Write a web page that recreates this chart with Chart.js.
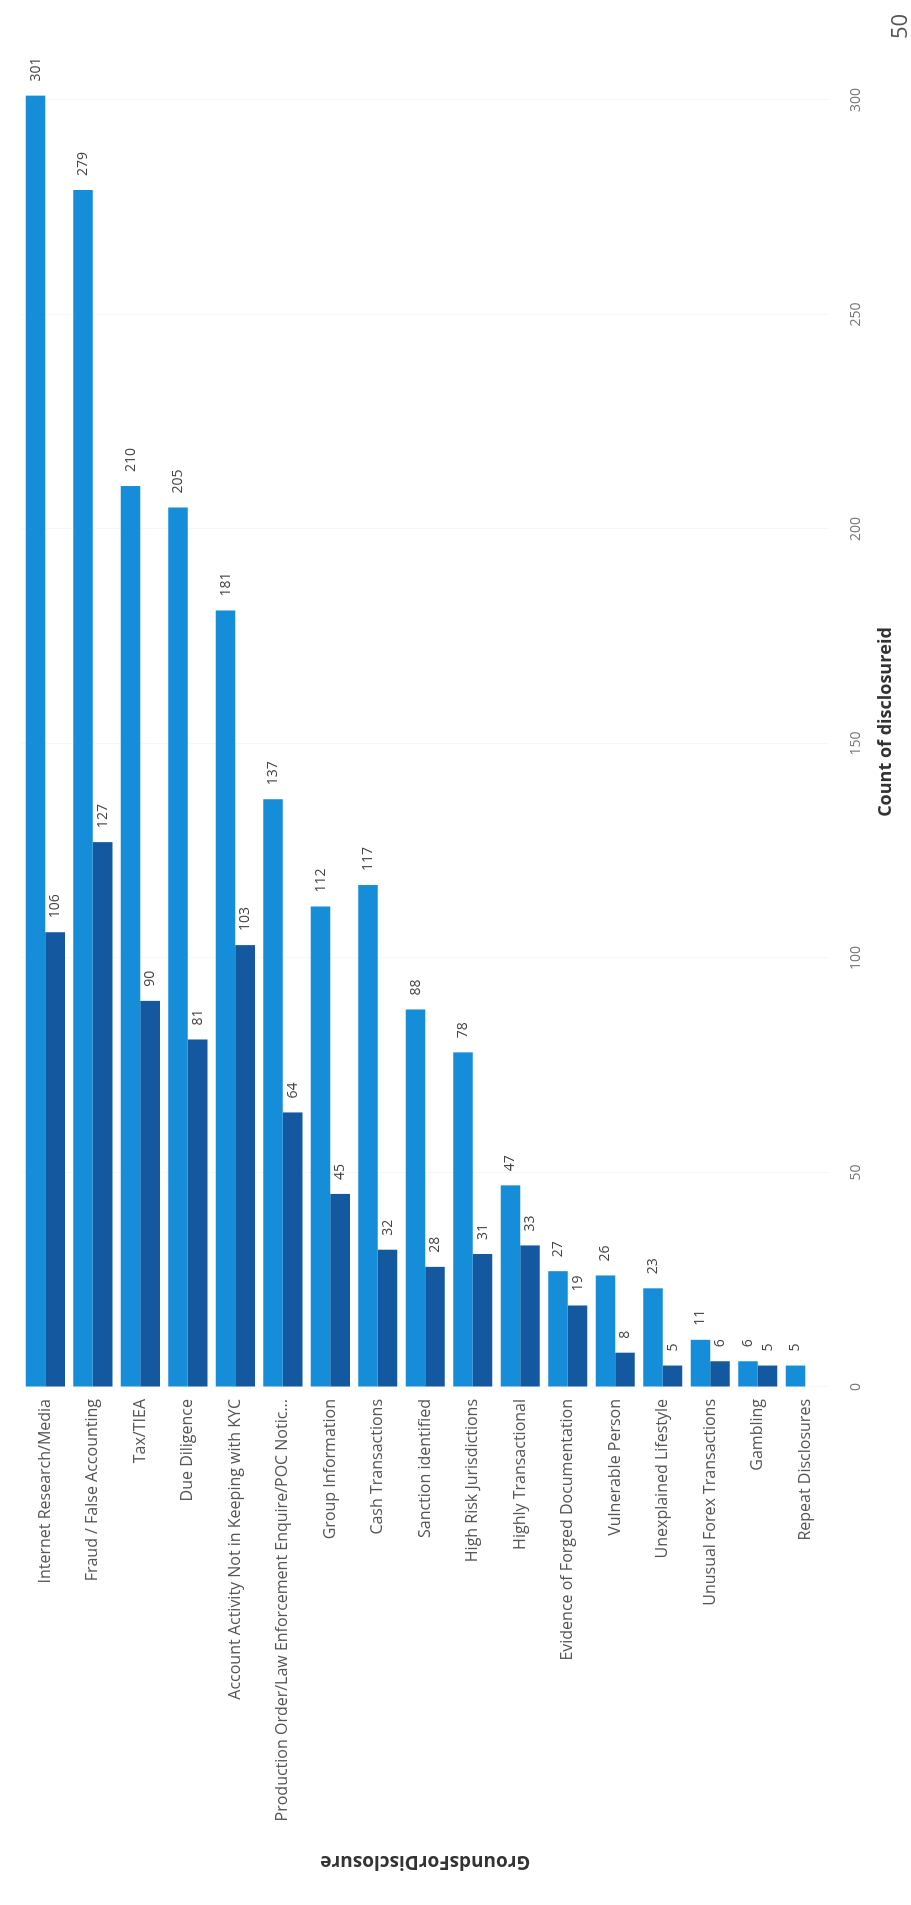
<!DOCTYPE html>
<html>
<head>
<meta charset="utf-8">
<script src="https://cdn.jsdelivr.net/npm/chart.js@4.4.0/dist/chart.umd.min.js"></script>
<style>
html, body { margin:0; padding:0; background:#fff; overflow:hidden; width:911px; height:1905px; }
/* the scan is a horizontal bar chart turned a quarter turn to the left */
#page { position:absolute; left:0; top:0; width:1905px; height:911px; transform-origin:0 0; transform:translateY(1905px) rotate(-90deg); }
#pageNo { position:absolute; left:1866px; top:887px; font:22px/22px 'Open Sans'; color:#555; }
</style>
</head>
<body>
<div id="page">
	<canvas id="myChart" width="1905" height="911"></canvas>
	<div id="pageNo">50</div>
</div>
<script>
var categories = ['Internet Research/Media', 'Fraud / False Accounting', 'Tax/TIEA', 'Due Diligence',
	'Account Activity Not in Keeping with KYC', 'Production Order/Law Enforcement Enquire/POC Notic...',
	'Group Information', 'Cash Transactions', 'Sanction identified', 'High Risk Jurisdictions',
	'Highly Transactional', 'Evidence of Forged Documentation', 'Vulnerable Person',
	'Unexplained Lifestyle', 'Unusual Forex Transactions', 'Gambling', 'Repeat Disclosures'];
var seriesLight = [301, 279, 210, 205, 181, 137, 112, 117, 88, 78, 47, 27, 26, 23, 11, 6, 5];
var seriesDark = [106, 127, 90, 81, 103, 64, 45, 32, 28, 31, 33, 19, 8, 5, 6, 5, null];
var tickValues = [0, 50, 100, 150, 200, 250, 300];

// value labels at the end of each bar
var barLabels = {
	id: 'barLabels',
	afterDatasetsDraw: function(chart) {
		var ctx = chart.ctx;
		ctx.save();
		ctx.font = '14px "Open Sans"';
		ctx.fillStyle = '#444';
		ctx.textAlign = 'left';
		ctx.textBaseline = 'middle';
		chart.data.datasets.forEach(function(ds, i) {
			chart.getDatasetMeta(i).data.forEach(function(bar, j) {
				if (ds.data[j] == null) return;
				ctx.fillText(ds.data[j], bar.x + 14, bar.y);
			});
		});
		ctx.restore();
	}
};

var ctx = document.getElementById('myChart');
var myChart = new Chart(ctx, {
	type: 'bar',
	data: {
		labels: categories,
		datasets: [{
			label: 'Series 1',
			data: seriesLight,
			backgroundColor: '#168dd8'
		}, {
			label: 'Series 2',
			data: seriesDark,
			backgroundColor: '#14599f'
		}]
	},
	options: {
		indexAxis: 'y',
		responsive: false,
		animation: false,
		layout: { padding: { left: 0, right: 57, top: 4, bottom: 0 } },
		datasets: { bar: { categoryPercentage: 0.824, barPercentage: 1.0 } },
		plugins: {
			legend: { display: false },
			tooltip: { enabled: false }
		},
		scales: {
			x: {
				min: 0,
				max: 310,
				afterBuildTicks: function(scale) {
					scale.ticks = tickValues.map(function(v) { return { value: v }; });
				},
				afterFit: function(scale) { scale.height = 82; },
				grid: { color: 'rgba(0,0,0,0.03)', drawTicks: false },
				border: { display: false },
				ticks: { padding: 19, color: '#777', font: { family: 'Open Sans', size: 14 } },
				title: {
					display: true,
					text: 'Count of disclosureid',
					color: '#333',
					font: { family: 'Open Sans', size: 18, weight: 'bold' },
					padding: { top: 0, bottom: 14 }
				}
			},
			y: {
				afterFit: function(scale) { scale.width = 518; },
				grid: { display: false, drawTicks: false },
				border: { display: false },
				ticks: { padding: 12, color: '#555', font: { family: 'Open Sans', size: 16 } },
				title: {
					display: true,
					text: 'GroundsForDisclosure',
					color: '#333',
					font: { family: 'Open Sans', size: 19, weight: 'bold' },
					padding: { top: 32, bottom: 0 }
				}
			}
		}
	},
	plugins: [barLabels]
});
</script>
</body>
</html>
